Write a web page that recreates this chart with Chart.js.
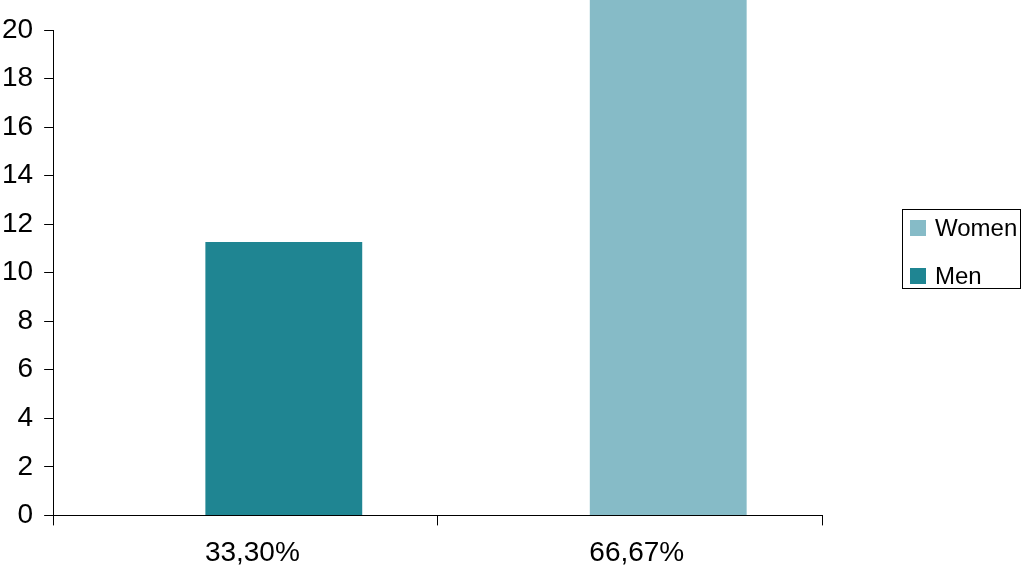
<!DOCTYPE html>
<html>
<head>
<meta charset="utf-8">
<script src="https://cdn.jsdelivr.net/npm/chart.js@4/dist/chart.umd.min.js"></script>
<style>
    html, body { margin: 0; padding: 0; background: #fff; }
    #wrap { position: relative; width: 1024px; height: 570px; }
    #legend {
        position: absolute; left: 902px; top: 209px; width: 119px; height: 80px;
        border: 1px solid #000; box-sizing: border-box;
        font-family: "Liberation Sans", Arial, sans-serif; font-size: 24px; color: #000;
    }
    #legend .item { position: absolute; left: 7px; display: flex; align-items: center; height: 28px; white-space: nowrap; }
    #legend .swatch { width: 16px; height: 16px; margin-right: 9px; }
</style>
</head>
<body>
<div id="wrap">
    <canvas id="chart"></canvas>
    <div id="legend"></div>
</div>
<script>
// --- Chart data ---
const categories = ['33,30%', '66,67%'];
const menValues = [11.26, null];
const womenValues = [null, 21.3];
const seriesNames = ['Men', 'Women'];
const seriesColors = ['#1f8592', '#86bbc7'];
const yTicks = [0, 2, 4, 6, 8, 10, 12, 14, 16, 18, 20];

const font = { family: '"Liberation Sans", Arial, sans-serif', size: 28 };

const chart = new Chart(document.getElementById('chart'), {
    type: 'bar',
    data: {
        labels: categories,
        datasets: [
            // empty spacer stack: pushes the real bars right of the category centre
            { label: '', data: [null, null], stack: 'spacer', backgroundColor: 'rgba(0,0,0,0)' },
            { label: seriesNames[0], data: menValues, stack: 'bars', backgroundColor: seriesColors[0], clip: false },
            { label: seriesNames[1], data: womenValues, stack: 'bars', backgroundColor: seriesColors[1], clip: false }
        ]
    },
    options: {
        responsive: true,
        maintainAspectRatio: false,
        animation: false,
        categoryPercentage: 0.4,
        barPercentage: 2.04,
        layout: { padding: { top: 30, right: 202, bottom: -11, left: -9 } },
        plugins: {
            legend: { display: false },
            tooltip: { enabled: false }
        },
        scales: {
            x: {
                grid: { drawOnChartArea: false, color: '#000', tickLength: 10, offset: true },
                border: { color: '#000', width: 1 },
                ticks: { color: '#000', font: font, padding: 11, maxRotation: 0, labelOffset: 7 }
            },
            y: {
                min: yTicks[0],
                max: yTicks[yTicks.length - 1],
                afterBuildTicks: axis => { axis.ticks = yTicks.map(v => ({ value: v })); },
                grid: { drawOnChartArea: false, color: '#000', tickLength: 9 },
                border: { color: '#000', width: 1 },
                ticks: { color: '#000', font: font, padding: 11 }
            }
        }
    }
});

// --- Legend (Women first, as in the original) ---
const legendEl = document.getElementById('legend');
const legendOrder = [2, 1];
legendOrder.forEach((dsIndex, row) => {
    const ds = chart.data.datasets[dsIndex];
    const item = document.createElement('div');
    item.className = 'item';
    item.style.top = (row === 0 ? 4 : 52) + 'px';
    item.innerHTML = `<span class="swatch" style="background:${ds.backgroundColor}"></span><span>${ds.label}</span>`;
    legendEl.appendChild(item);
});
</script>
</body>
</html>
